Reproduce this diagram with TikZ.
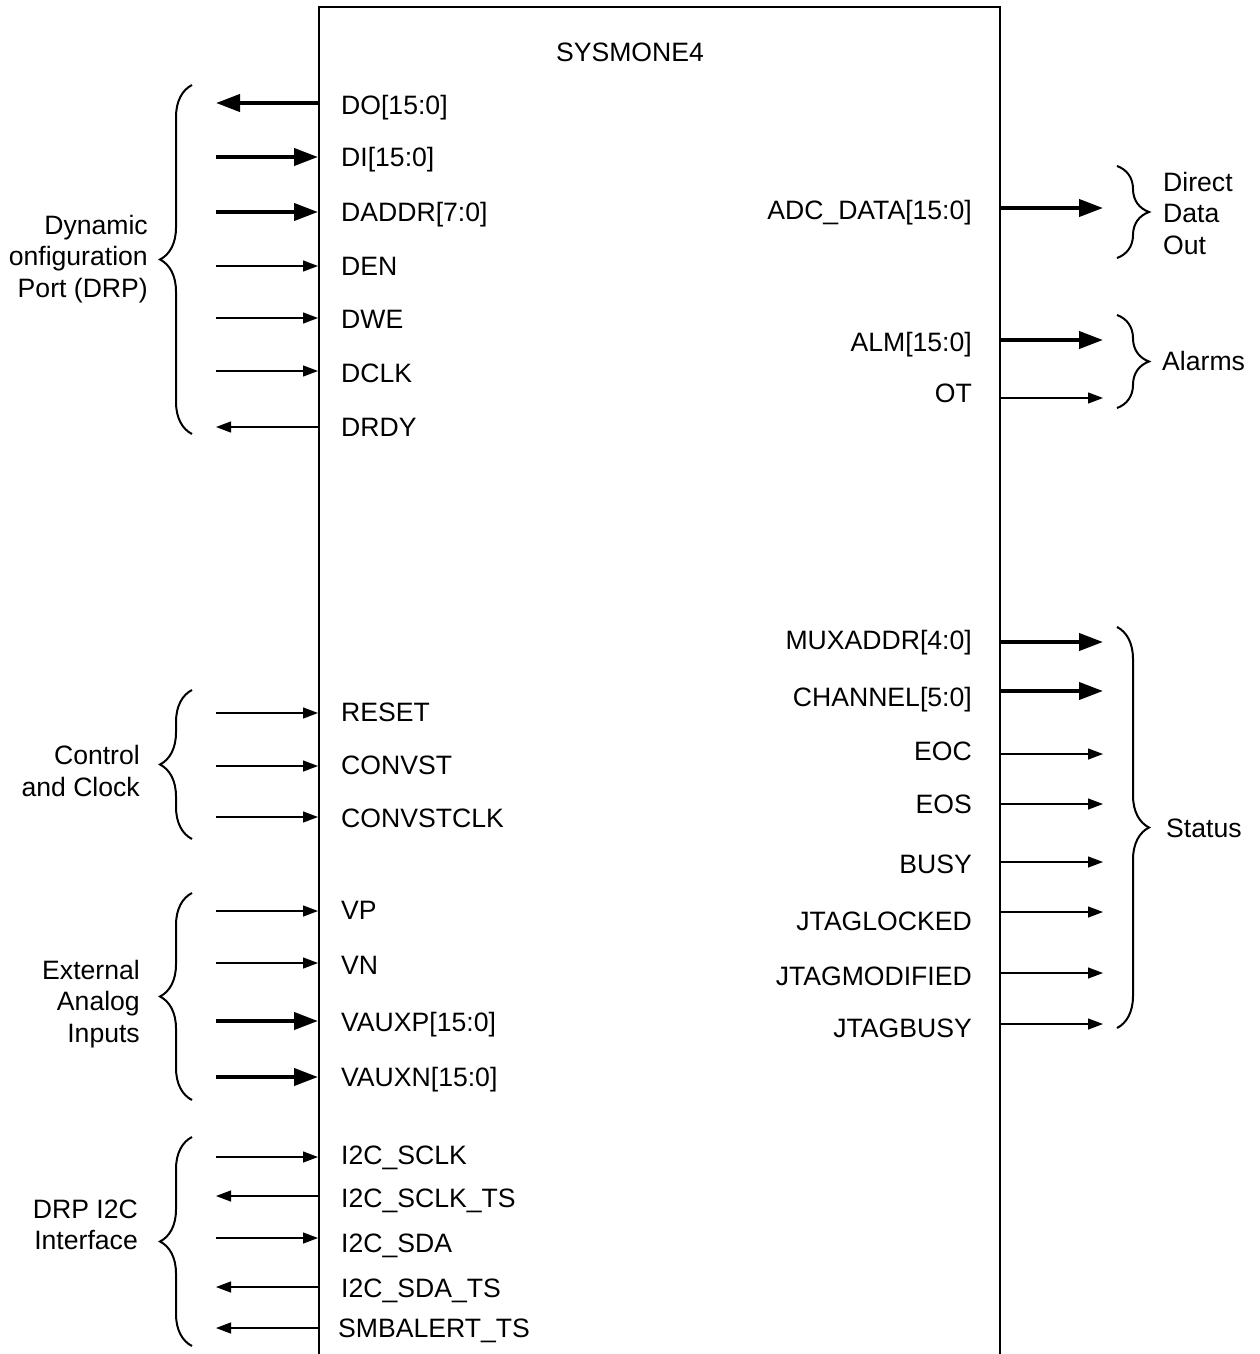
\documentclass[tikz,border=0pt]{standalone}
\usepackage{fontspec}
\setmainfont{Liberation Sans}
\usetikzlibrary{arrows.meta,decorations.pathreplacing}
\tikzset{
  sigin/.style={-{Triangle[length=15pt,width=11pt]}, line width=1.3pt},
  sigout/.style={{Triangle[length=15pt,width=11pt]}-, line width=1.3pt},
  busin/.style={-{Triangle[length=24pt,width=17pt]}, line width=4pt},
  busout/.style={{Triangle[length=24pt,width=17pt]}-, line width=4pt},
  pinlabel/.style={inner sep=0pt, text height=19pt, text depth=0pt},
  grp/.style={decorate, decoration={brace, amplitude=32pt}, line width=2pt},
  grplabel/.style={inner sep=0pt},
}
\begin{document}
\begin{tikzpicture}[x=1pt,y=-1pt,font=\fontsize{26.6}{31.5}\selectfont]
  \useasboundingbox (0,0) rectangle (1259,1354);
  % block outline, open at the bottom
  \draw[line width=2.5pt] (319,1354) |- (1000,7) -- (1000,1354);
  \node (title) at (630,52) {SYSMONE4};
  % left pins: name/label/label y/arrow y/style
  \foreach \nm/\txt/\ty/\ay/\st in {
    do/DO[15:0]/105/103/busout, di/DI[15:0]/157/157/busin,
    daddr/DADDR[7:0]/212/212/busin, den/DEN/266/266/sigin,
    dwe/DWE/319/318/sigin, dclk/DCLK/373/371/sigin,
    drdy/DRDY/427/427/sigout,
    reset/RESET/712/713/sigin, convst/CONVST/765/766/sigin,
    convstclk/CONVSTCLK/818/817/sigin,
    vp/VP/910/911/sigin, vn/VN/965/963/sigin,
    vauxp/VAUXP[15:0]/1022/1021/busin, vauxn/VAUXN[15:0]/1077/1077/busin,
    sclk/I2C\_SCLK/1155/1157/sigin, sclkts/I2C\_SCLK\_TS/1198/1196/sigout,
    sda/I2C\_SDA/1243/1238/sigin, sdats/I2C\_SDA\_TS/1288/1287/sigout}
  {
    \node[pinlabel, anchor=west] (\nm) at (341,\ty) {\txt};
    \coordinate (\nm-a) at (216,\ay);
    \coordinate (\nm-b) at (318,\ay);
    \draw[\st] (\nm-a) -- (\nm-b);
  }
  \node[pinlabel, anchor=west] (smbts) at (338,1328) {SMBALERT\_TS};
  \coordinate (smbts-a) at (216,1328);
  \coordinate (smbts-b) at (318,1328);
  \draw[sigout] (smbts-a) -- (smbts-b);
  % right pins
  \foreach \nm/\txt/\ty/\ay/\st in {
    adc/ADC\_DATA[15:0]/210/208/busin,
    alm/ALM[15:0]/342/340/busin, ot/OT/393/398/sigin,
    muxaddr/MUXADDR[4:0]/640/642/busin, channel/CHANNEL[5:0]/697/691/busin,
    eoc/EOC/751/754/sigin, eos/EOS/804/804/sigin,
    busy/BUSY/864/862/sigin, jlock/JTAGLOCKED/921/912/sigin,
    jmod/JTAGMODIFIED/976/973/sigin, jbusy/JTAGBUSY/1028/1024/sigin}
  {
    \node[pinlabel, anchor=east] (\nm) at (972,\ty) {\txt};
    \coordinate (\nm-a) at (1001,\ay);
    \coordinate (\nm-b) at (1103,\ay);
    \draw[\st] (\nm-a) -- (\nm-b);
  }
  % braces and group names
  \draw[grp] (192,434) -- (192,85);
  \draw[grp] (192,839) -- (192,690);
  \draw[grp] (192,1100) -- (192,893);
  \draw[grp] (192,1346) -- (192,1137);
  \draw[grp] (1117,166) -- (1117,258);
  \draw[grp] (1117,315) -- (1117,408);
  \draw[grp] (1117,627) -- (1117,1028);
  \node[grplabel, anchor=east, align=right] (drp) at (148,259)
    {Dynamic\\onfiguration\\Port (DRP)};
  \node[grplabel, anchor=east, align=right] (ctrl) at (140,771)
    {Control\\and Clock};
  \node[grplabel, anchor=east, align=right] (ext) at (140,1004)
    {External\\Analog\\Inputs};
  \node[grplabel, anchor=east, align=right] (i2c) at (138,1225)
    {DRP I2C\\Interface};
  \node[grplabel, anchor=west, align=left] (ddo) at (1163,213)
    {Direct\\Data\\Out};
  \node[grplabel, anchor=west] (alarms) at (1162,361) {Alarms};
  \node[grplabel, anchor=west] (status) at (1166,828) {Status};
\end{tikzpicture}
\end{document}
